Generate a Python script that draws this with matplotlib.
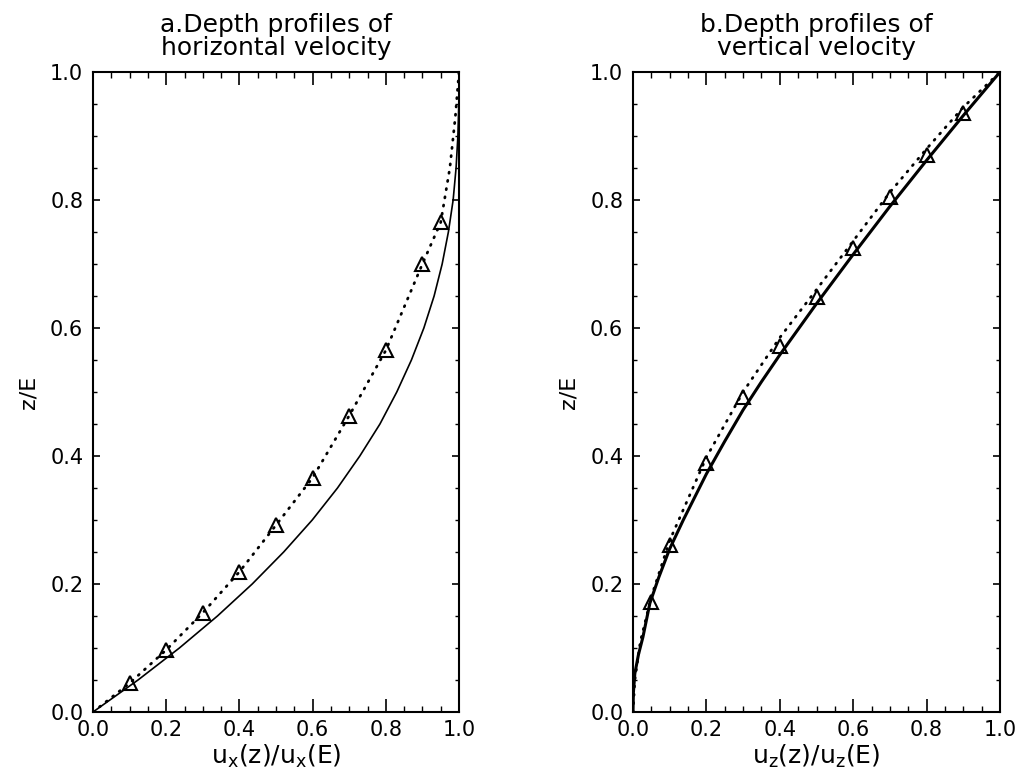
import matplotlib
matplotlib.use('Agg')
import matplotlib.pyplot as plt
from matplotlib.ticker import MultipleLocator

# panel a: horizontal velocity
a_solid_z = [0.0, 0.05, 0.10, 0.15, 0.20, 0.25, 0.30, 0.35, 0.40, 0.45, 0.50, 0.55,
             0.60, 0.65, 0.70, 0.75, 0.80, 0.85, 0.90, 0.95, 1.0]
a_solid_x = [0.0, 0.123, 0.236, 0.340, 0.435, 0.521, 0.599, 0.668, 0.729, 0.784, 0.830, 0.870,
             0.904, 0.932, 0.954, 0.971, 0.984, 0.992, 0.997, 0.9995, 1.0]
a_dot_x = [0.0, 0.1, 0.2, 0.3, 0.4, 0.5, 0.6, 0.7, 0.8, 0.9, 0.95, 0.975, 0.99, 1.0]
a_dot_z = [0.0, 0.045, 0.097, 0.155, 0.219, 0.292, 0.366, 0.463, 0.565, 0.70, 0.765, 0.85, 0.93, 1.0]
a_tri_x = [0.1, 0.2, 0.3, 0.4, 0.5, 0.6, 0.7, 0.8, 0.9, 0.95]
a_tri_z = [0.045, 0.097, 0.155, 0.219, 0.292, 0.366, 0.463, 0.565, 0.70, 0.765]

# panel b: vertical velocity
b_solid_x = [0.0, 0.001, 0.005, 0.015, 0.027, 0.046, 0.07, 0.10, 0.137, 0.20, 0.25, 0.30,
             0.35, 0.40, 0.50, 0.60, 0.70, 0.80, 0.90, 1.0]
b_solid_z = [0.0, 0.03, 0.06, 0.09, 0.117, 0.17, 0.21, 0.255, 0.30, 0.372, 0.423, 0.472,
             0.516, 0.558, 0.638, 0.715, 0.790, 0.862, 0.932, 1.0]
b_dot_x = [0.0, 0.005, 0.02, 0.05, 0.1, 0.2, 0.3, 0.4, 0.5, 0.6, 0.7, 0.8, 0.9, 1.0]
b_dot_z = [0.0, 0.05, 0.11, 0.18, 0.268, 0.398, 0.50, 0.585, 0.66, 0.736, 0.812, 0.88, 0.945, 1.0]
b_tri_x = [0.05, 0.1, 0.2, 0.3, 0.4, 0.5, 0.6, 0.7, 0.8, 0.9]
b_tri_z = [0.172, 0.261, 0.389, 0.492, 0.572, 0.649, 0.725, 0.805, 0.870, 0.936]

tick_vals = [0.0, 0.2, 0.4, 0.6, 0.8, 1.0]
tick_text = ['0.0', '0.2', '0.4', '0.6', '0.8', '1.0']

plt.rcParams['font.family'] = ['DejaVu Sans']

fig = plt.figure(figsize=(10.15, 7.84), dpi=100)
ax_a = fig.add_axes([93 / 1015, 72 / 784, 366 / 1015, 640 / 784])
ax_b = fig.add_axes([633 / 1015, 72 / 784, 367 / 1015, 640 / 784])

panels = [
    (ax_a, a_solid_x, a_solid_z, a_dot_x, a_dot_z, a_tri_x, a_tri_z, 1.2,
     'a.Depth profiles of\nhorizontal velocity', r'$\mathrm{u_x(z)/u_x(E)}$'),
    (ax_b, b_solid_x, b_solid_z, b_dot_x, b_dot_z, b_tri_x, b_tri_z, 2.2,
     'b.Depth profiles of\nvertical velocity', r'$\mathrm{u_z(z)/u_z(E)}$'),
]

for ax, sx, sz, dx, dz, tx, tz, slw, title, xlab in panels:
    ax.plot(sx, sz, '-', color='black', lw=slw, solid_joinstyle='round')
    ax.plot(dx, dz, color='black', lw=2.0, linestyle=(0, (0.4, 2.6)), dash_capstyle='round')
    ax.plot(tx, tz, '^', ms=10, mfc='none', mec='black', mew=1.5, ls='none')
    ax.set_xlim(0, 1)
    ax.set_ylim(0, 1)
    ax.set_xticks(tick_vals)
    ax.set_xticklabels(tick_text)
    ax.set_yticks(tick_vals)
    ax.set_yticklabels(tick_text)
    ax.xaxis.set_minor_locator(MultipleLocator(0.05))
    ax.yaxis.set_minor_locator(MultipleLocator(0.05))
    ax.tick_params(axis='x', which='major', direction='in', length=9.2, width=1.2,
                   top=True, bottom=True, labelsize=15, pad=6)
    ax.tick_params(axis='x', which='minor', direction='in', length=4.6, width=1.0,
                   top=True, bottom=True)
    ax.tick_params(axis='y', which='major', direction='in', length=5.3, width=1.2,
                   left=True, right=True, labelsize=15, pad=7)
    ax.tick_params(axis='y', which='minor', direction='in', length=2.7, width=1.0,
                   left=True, right=True)
    for sp in ax.spines.values():
        sp.set_linewidth(1.5)
    ax.set_title(title, fontsize=18, linespacing=0.95, pad=12)
    ax.set_xlabel(xlab, fontsize=18, labelpad=2)
    ax.set_ylabel('z/E', fontsize=16, labelpad=8)

fig.savefig('out.png', dpi=100)
